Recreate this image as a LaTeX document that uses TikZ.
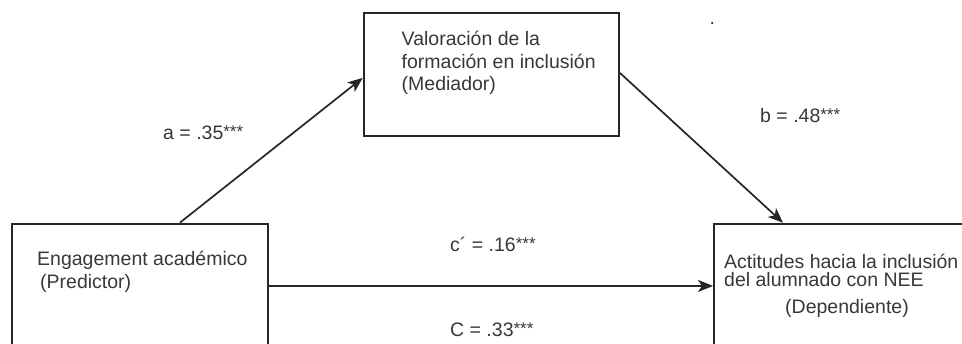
\documentclass[tikz,border=0pt]{standalone}
\usepackage{fontspec}
\setmainfont{Liberation Sans}
\usetikzlibrary{arrows.meta,calc}
\definecolor{linec}{HTML}{262626}
\definecolor{textc}{HTML}{383838}
\newcommand{\mystars}{\raisebox{2pt}{\fontsize{17}{17}\selectfont ***}}
\begin{document}
\begin{tikzpicture}[x=1pt,y=-1pt,
  box/.style={draw=linec,line width=1.9pt,rectangle,inner sep=0pt,anchor=north west},
  txt/.style={anchor=base west,inner sep=0pt,text=textc,font=\fontsize{19.5}{23}\selectfont},
  arr/.style={draw=linec,line width=1.7pt,-{Stealth[length=15pt,width=12pt,inset=4pt]}}]
\useasboundingbox[clip] (0,0) rectangle (962,343);
\fill[white] (0,0) rectangle (962,343);
% boxes
\node[box,minimum width=256pt,minimum height=124.8pt] (L) at (11,222.6) {};
\node[box,minimum width=280pt,minimum height=124.6pt] (R) at (713,222.7) {};
\node[box,minimum width=255.3pt,minimum height=123.3pt] (M) at (362.7,11.7) {};
% texts
\node[txt] (l1) at (37,265.7) {Engagement académico};
\node[txt] (l2) at (40,288) {(Predictor)};
\node[txt] (r1) at (724,268.3) {Actitudes hacia la inclusión};
\node[txt] (r2) at (724,286.7) {del alumnado con NEE};
\node[txt] (r3) at (785,313) {(Dependiente)};
\node[txt] (m1) at (401.5,45) {Valoración de la};
\node[txt] (m2) at (401.5,68.3) {formación en inclusión};
\node[txt] (m3) at (401.5,90.7) {(Mediador)};
% labels
\node[txt] (la) at (163,139) {a = .35\mystars};
\node[txt] (lb) at (760,122.7) {b = .48\mystars};
\node[txt] (lc) at (450,251.7) {c\char"00B4\ = .16\mystars};
\node[txt] (lC) at (450,336.7) {C = .33\mystars};
\node[txt] (dot) at (709.5,24) {.};
% connectors
\draw[arr] ([xshift=169pt]L.north west) -- ([yshift=-3.6pt]M.west);
\draw[arr] ([yshift=1.4pt]M.east) -- ([xshift=70pt]R.north west);
\draw[arr] (L.east) -- (R.west);
\end{tikzpicture}
\end{document}
